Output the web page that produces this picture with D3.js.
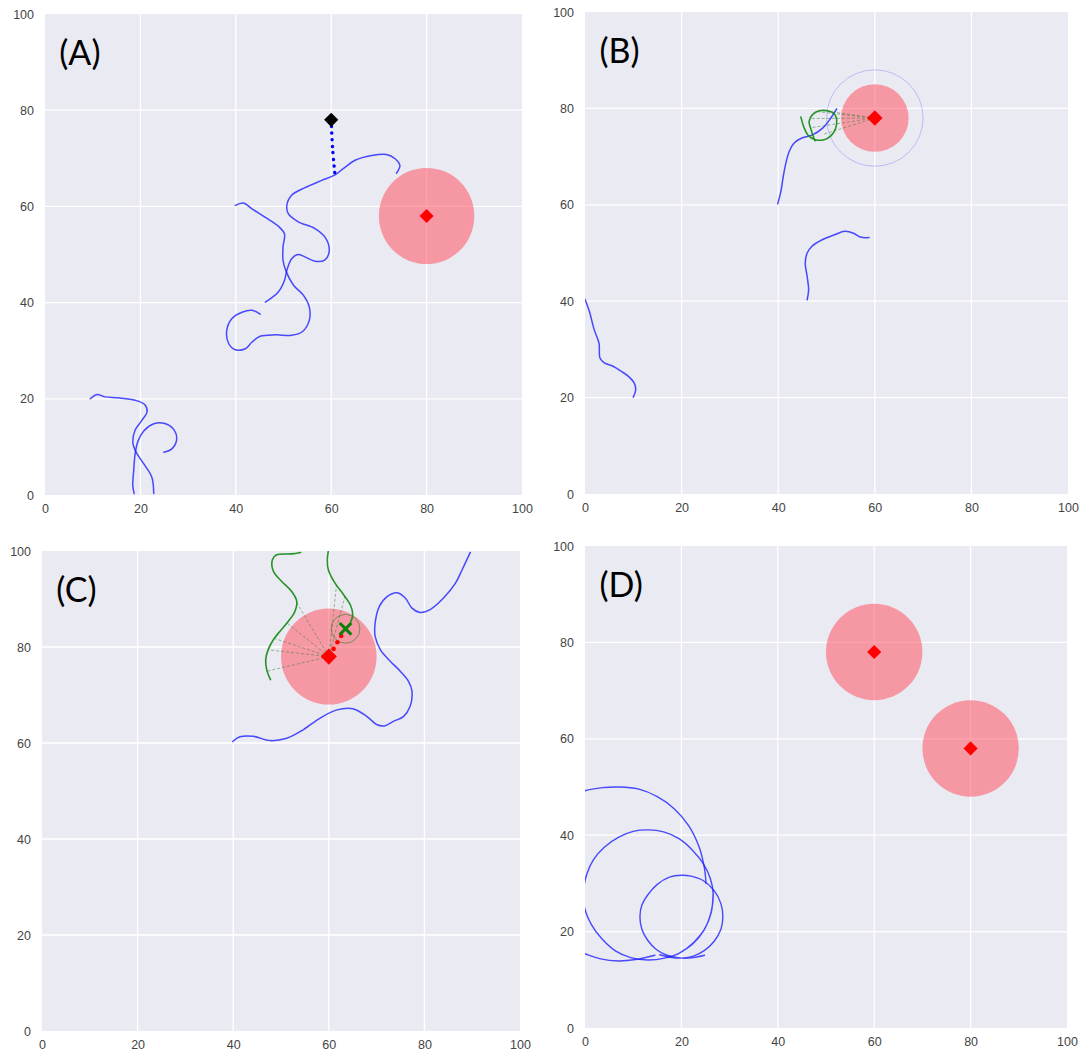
<!DOCTYPE html>
<html><head><meta charset="utf-8">
<script src="https://cdn.jsdelivr.net/npm/d3@7"></script>
<style>
html,body{margin:0;padding:0;background:#fff;}
svg{display:block;}
</style></head>
<body>
<svg id="chart" width="1083" height="1057"></svg>
<script>
// ---------------- DATA ----------------
const tickValues = [0, 20, 40, 60, 80, 100];
const panelLabels = ["(A)", "(B)", "(C)", "(D)"];

// Panel A
const aTargets = [[80, 58]];
const aTargetRadius = 10;
const aStart = [60, 78];
const aDotted = [[60, 78], [60.3, 72], [60.8, 66.5]];
const aPath1 = [[73.7,66.9],[74.4,68.5],[73.4,69.9],[71.6,70.8],[68.5,70.6],[65.0,69.6],[62.6,67.9],[60.7,66.5],[58.0,65.4],[54.5,63.9],[51.7,62.3],[50.7,60.2],[51.0,58.5],[53.1,56.8],[56.6,55.4],[58.7,53.6],[59.6,50.9],[58.7,48.9],[56.6,48.6],[54.5,49.5],[53.0,50.0],[51.7,49.1],[50.7,46.7],[50.2,44.6],[48.9,42.2],[46.2,40.1]];
const aPath2 = [[39.9,60.2],[41.6,60.7],[43.4,59.5],[46.2,57.7],[48.9,55.9],[50.2,54.3],[49.9,51.6],[49.9,48.8],[50.5,46.6],[52.1,43.6],[54.2,41.5],[55.4,39.1],[55.4,36.3],[54.0,34.0],[51.7,33.2],[48.3,33.3],[45.1,33.0],[43.4,31.8],[42.0,30.4],[39.9,30.2],[38.5,31.5],[38.1,34.2],[39.2,36.7],[41.3,38.0],[43.4,38.4],[45.1,37.6]];
const aPath3 = [[9.5,20.0],[10.9,20.9],[12.6,20.4],[15.4,20.2],[18.9,19.7],[20.9,18.8],[21.4,17.3],[20.3,15.5],[18.9,13.5],[18.4,11.0],[19.1,8.9],[20.9,6.2],[22.4,3.7],[22.8,0.3]];
const aPath4 = [[24.9,8.9],[26.6,9.6],[27.6,11.5],[27.0,13.6],[24.9,14.9],[22.8,14.8],[20.7,13.3],[19.5,11.2],[18.9,8.6],[18.6,5.1],[18.4,2.0],[18.7,0.3]];

// Panel B
const bTarget = [60, 78];
const bTargetRadius = 7;
const bSenseRadius = 10;
const bBlue1 = [[52.1,79.9],[50.9,78.0],[49.2,75.9],[47.1,74.5],[45.0,73.9],[43.3,72.8],[42.3,71.1],[41.6,68.7],[41.0,65.6],[40.6,63.0],[39.9,60.2]];
const bBlue2 = [[46.0,40.3],[46.3,42.4],[46.0,45.1],[45.6,47.9],[46.0,50.0],[47.0,51.4],[49.2,52.8],[51.7,53.8],[53.8,54.5],[55.6,54.1],[57.0,53.3],[58.8,53.2]];
const bBlue3 = [[0,40.4],[0.9,37.9],[1.9,34.1],[2.9,31.3],[3.1,28.2],[4.0,27.2],[5.8,26.5],[7.6,25.4],[9.0,24.4],[10.2,23.0],[10.5,21.6],[10.0,20.1]];
const bGreen = [[44.7,78.2],[45.4,75.9],[46.3,74.3],[47.7,73.5],[49.5,73.5],[50.9,74.3],[51.9,75.9],[52.1,77.7],[51.6,78.9],[50.2,79.5],[48.5,79.5],[47.1,78.7],[46.4,77.3],[46.8,75.6],[47.6,73.3]];
const bSight = [[50.2,79.4],[48.3,79.3],[46.7,77.9],[46.8,76.0],[49.3,74.6]];

// Panel C
const cTarget = [60, 78];
const cTargetRadius = 10;
const cGreen1 = [[54.1,99.7],[52.2,99.4],[49.1,99.2],[48.2,98.2],[48.4,95.8],[50.1,93.7],[52.2,91.6],[53.3,89.5],[52.9,87.4],[51.5,85.3],[49.8,83.3],[48.4,81.5],[47.3,79.4],[46.8,77.4],[47.0,75.3],[47.8,73.2]];
const cGreen2 = [[59.9,100],[59.7,98.2],[59.9,96.1],[61.3,93.3],[63.1,90.9],[64.5,88.8],[65.0,86.7],[64.5,85.0],[63.6,83.8]];
const cBlue = [[39.9,60.3],[41.4,61.3],[44.2,61.4],[47.7,60.5],[51.2,61.0],[54.7,62.8],[58.2,65.2],[61.7,66.9],[65.2,67.1],[68.0,65.5],[70.1,63.8],[71.8,63.6],[73.5,64.5],[75.6,65.5],[77.0,67.6],[77.4,70.8],[76.7,72.8],[75.0,74.9],[72.9,77.0],[70.8,79.4],[69.7,82.2],[69.7,85.0],[70.6,88.5],[72.2,90.5],[74.3,91.3],[76.0,90.2],[77.4,88.1],[79.1,87.2],[81.2,87.8],[84.0,90.2],[86.5,93.3],[87.9,96.1],[89.6,99.7]];
const cSight = [[53.2,89.4],[51.0,85.2],[48.6,81.8],[47.3,79.4],[47.2,75.0],[61.6,92.8],[63.4,90.6]];
const cRedDots = [[61.0,79.6],[61.8,81.0],[62.6,82.3]];
const cCross = [63.5, 83.8];
const cCrossRadius = 3;

// Panel D
const dTargets = [[60, 78], [80, 58]];
const dTargetRadius = 10;
const dBlue1 = [[14.5,15.1],[10.5,14.2],[7,13.9],[3,14.4],[0,15.4],[-4,17],[-7.5,20],[-10,25],[-11,32],[-10,38],[-7.5,43],[-4,47],[0,49.2],[4,49.9],[7,50],[11,49.6],[15,48],[18.5,45.5],[21.5,42],[23.7,37.5],[24.8,33],[25.1,30]];
const dBlue2 = [[26.6,28.5],[26.2,24],[24.8,20.5],[22.6,17.8],[19.5,15.5],[16.5,14.5],[13.1,14.1],[9.5,14.6],[6.3,16],[3.5,18.5],[1.3,21.5],[-0.1,25],[-0.3,28.5],[0.4,32],[1.8,35],[4,37.5],[7,39.6],[10,40.8],[13.1,41.1],[16.3,40.7],[19.5,39.3],[22.2,37],[24.6,34],[26,31],[26.6,27.9],[26.2,24.2],[24.7,20.3],[22.4,17.5],[19.2,15.3]];
const dBlue3 = [[15.5,15.2],[18,14.6],[20,14.5],[22.5,14.9],[24.8,16.1],[26.8,18],[28.2,20.5],[28.6,23.1],[28.2,25.8],[26.8,28.5],[24.5,30.6],[22,31.5],[20,31.7],[17.5,31.3],[15,29.8],[13,27.6],[11.8,25.5],[11.4,23.1],[11.8,20.5],[13,18.2],[14.8,16.3],[17,15.1],[20,14.5],[22.5,14.6],[24.8,15.1]];

// ---------------- LAYOUT ----------------
const svg = d3.select("#chart");
const boxes = [
  {l: 45,  r: 522,  t: 14,  b: 495},
  {l: 585, r: 1068, t: 12,  b: 494},
  {l: 42,  r: 520,  t: 551, b: 1031},
  {l: 585, r: 1067, t: 546, b: 1028}
];

const BLUE = "#1f1fff";
const GREEN = "#108a10";
const TARGET_FILL = "#ff4656";

function makePanel(i) {
  const bx = boxes[i];
  const x = d3.scaleLinear().domain([0, 100]).range([bx.l, bx.r]);
  const y = d3.scaleLinear().domain([0, 100]).range([bx.b, bx.t]);
  const g = svg.append("g");
  g.append("rect").attr("x", bx.l).attr("y", bx.t)
    .attr("width", bx.r - bx.l).attr("height", bx.b - bx.t).attr("fill", "#eaeaf2");
  g.append("g").selectAll("line").data(tickValues.slice(1, -1)).join("line")
    .attr("x1", d => x(d)).attr("x2", d => x(d)).attr("y1", bx.t).attr("y2", bx.b)
    .attr("stroke", "#fff").attr("stroke-width", 1.3);
  g.append("g").selectAll("line").data(tickValues.slice(1, -1)).join("line")
    .attr("y1", d => y(d)).attr("y2", d => y(d)).attr("x1", bx.l).attr("x2", bx.r)
    .attr("stroke", "#fff").attr("stroke-width", 1.3);
  const ax = g.append("g").attr("transform", `translate(0,${bx.b})`)
    .call(d3.axisBottom(x).tickValues(tickValues).tickSize(0).tickPadding(9));
  const ay = g.append("g").attr("transform", `translate(${bx.l},0)`)
    .call(d3.axisLeft(y).tickValues(tickValues).tickSize(0).tickPadding(11));
  [ax, ay].forEach(a => {
    a.select(".domain").remove();
    a.selectAll("text").attr("fill", "#444").style("font-family", "'Liberation Sans', Arial, sans-serif").style("font-size", "12.5px");
  });
  const cid = "clip" + i;
  svg.append("clipPath").attr("id", cid).append("rect")
    .attr("x", bx.l).attr("y", bx.t).attr("width", bx.r - bx.l).attr("height", bx.b - bx.t);
  const plot = g.append("g").attr("clip-path", `url(#${cid})`);
  g.append("text").attr("x", x(3.0)).attr("y", y(89.4)).text(panelLabels[i])
    .style("font-family", "Lato, 'Open Sans', sans-serif").style("font-size", "34px").attr("fill", "#000");
  return {x, y, plot};
}

function rx(p, r) { return p.x(r) - p.x(0); }
function ry(p, r) { return p.y(0) - p.y(r); }

function drawTarget(p, c, r) {
  p.plot.append("ellipse").attr("cx", p.x(c[0])).attr("cy", p.y(c[1]))
    .attr("rx", rx(p, r)).attr("ry", ry(p, r))
    .attr("fill", TARGET_FILL).attr("fill-opacity", 0.5);
}
function drawDiamond(p, c, color, size) {
  p.plot.append("path").attr("d", d3.symbol(d3.symbolSquare, size)())
    .attr("transform", `translate(${p.x(c[0])},${p.y(c[1])}) rotate(45)`)
    .attr("fill", color);
}
function drawPath(p, pts, color, width, opacity) {
  const line = d3.line().x(d => p.x(d[0])).y(d => p.y(d[1])).curve(d3.curveCatmullRom.alpha(0.5));
  return p.plot.append("path").attr("d", line(pts)).attr("fill", "none")
    .attr("stroke", color).attr("stroke-width", width).attr("stroke-opacity", opacity)
    .attr("stroke-linecap", "round").attr("stroke-linejoin", "round");
}
function drawSight(p, from, targets) {
  p.plot.append("g").selectAll("line").data(targets).join("line")
    .attr("x1", p.x(from[0])).attr("y1", p.y(from[1]))
    .attr("x2", d => p.x(d[0])).attr("y2", d => p.y(d[1]))
    .attr("stroke", "#2e7d2e").attr("stroke-opacity", 0.55).attr("stroke-width", 0.9)
    .attr("stroke-dasharray", "3,2");
}

// ---------- Panel A ----------
const pA = makePanel(0);
aTargets.forEach(t => drawTarget(pA, t, aTargetRadius));
[aPath1, aPath2, aPath3, aPath4].forEach(pts => drawPath(pA, pts, BLUE, 1.5, 0.8));
drawPath(pA, aDotted, "#0000ff", 3.4, 1).attr("stroke-dasharray", "0.1,6.5");
aTargets.forEach(t => drawDiamond(pA, t, "#ff0000", 100));
drawDiamond(pA, aStart, "#000000", 100);

// ---------- Panel B ----------
const pB = makePanel(1);
drawTarget(pB, bTarget, bTargetRadius);
pB.plot.append("ellipse").attr("cx", pB.x(bTarget[0])).attr("cy", pB.y(bTarget[1]))
  .attr("rx", rx(pB, bSenseRadius)).attr("ry", ry(pB, bSenseRadius))
  .attr("fill", "none").attr("stroke", "#0000ff").attr("stroke-opacity", 0.2).attr("stroke-width", 1);
drawSight(pB, bTarget, bSight);
[bBlue1, bBlue2, bBlue3].forEach(pts => drawPath(pB, pts, BLUE, 1.5, 0.8));
drawPath(pB, bGreen, GREEN, 1.6, 0.9);
drawDiamond(pB, bTarget, "#ff0000", 120);

// ---------- Panel C ----------
const pC = makePanel(2);
drawTarget(pC, cTarget, cTargetRadius);
drawSight(pC, cTarget, cSight);
drawPath(pC, cBlue, BLUE, 1.5, 0.8);
[cGreen1, cGreen2].forEach(pts => drawPath(pC, pts, GREEN, 1.6, 0.9));
pC.plot.append("ellipse").attr("cx", pC.x(cCross[0])).attr("cy", pC.y(cCross[1]))
  .attr("rx", rx(pC, cCrossRadius)).attr("ry", ry(pC, cCrossRadius))
  .attr("fill", "none").attr("stroke", "#2e7d2e").attr("stroke-opacity", 0.6).attr("stroke-width", 1);
pC.plot.append("g").selectAll("circle").data(cRedDots).join("circle")
  .attr("cx", d => pC.x(d[0])).attr("cy", d => pC.y(d[1])).attr("r", 2.3).attr("fill", "#ff0000");
drawDiamond(pC, cTarget, "#ff0000", 130);
pC.plot.append("path").attr("d", d3.symbol(d3.symbolX, 90)())
  .attr("transform", `translate(${pC.x(cCross[0])},${pC.y(cCross[1])})`)
  .attr("fill", "none").attr("stroke", "#0a800a").attr("stroke-width", 3);

// ---------- Panel D ----------
const pD = makePanel(3);
dTargets.forEach(t => drawTarget(pD, t, dTargetRadius));
[dBlue1, dBlue2, dBlue3].forEach(pts => drawPath(pD, pts, BLUE, 1.4, 0.8));
dTargets.forEach(t => drawDiamond(pD, t, "#ff0000", 100));
</script>
</body></html>
